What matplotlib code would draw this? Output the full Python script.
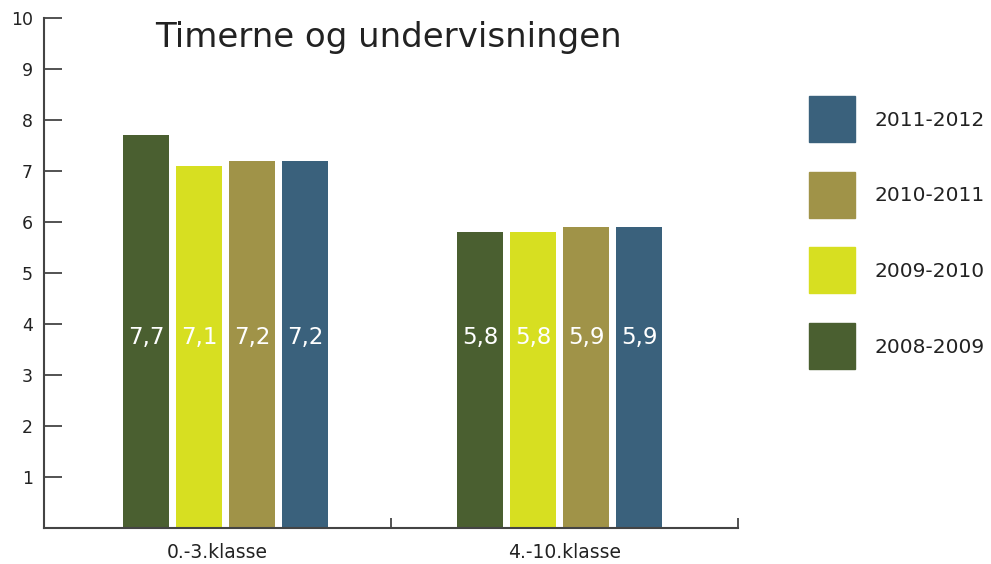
import matplotlib.pyplot as plt
from matplotlib.patches import Rectangle
import numpy as np

plt.rcParams['font.family'] = ['DejaVu Sans']

# data
categories = ["0.-3.klasse", "4.-10.klasse"]
years = ["2008-2009", "2009-2010", "2010-2011", "2011-2012"]
v_2008 = [7.7, 5.8]
v_2009 = [7.1, 5.8]
v_2010 = [7.2, 5.9]
v_2011 = [7.2, 5.9]
values = [v_2008, v_2009, v_2010, v_2011]
colors = ["#4a5f30", "#d7df21", "#a09348", "#3a617c"]

fig = plt.figure(figsize=(9.91, 5.64), dpi=100)
ax = fig.add_axes([44 / 991, 36 / 564, 694 / 991, 510 / 564])

group_centers = np.array([0.523, 1.486])
width = 0.1326
step = 0.1527
for i, (vals, col) in enumerate(zip(values, colors)):
    xs = group_centers + (i - 1.5) * step
    ax.bar(xs, vals, width=width, color=col)
    for x, v in zip(xs, vals):
        ax.text(x, 3.73, f"{v:.1f}".replace(".", ","), ha="center", va="center",
                color="white", fontsize=16.5)

ax.set_xlim(0, 2)
ax.set_ylim(0, 10)
ax.set_yticks(range(1, 11))
ax.tick_params(axis="y", direction="in", length=13, width=1.3, color="#444",
               labelsize=12.5, pad=8, labelcolor="#222")
ax.set_xticks([0, 1, 2])
ax.set_xticklabels([])
ax.set_xticks([0.5, 1.5], minor=True)
ax.set_xticklabels(categories, minor=True)
ax.tick_params(axis="x", which="major", direction="in", length=7, width=1.3, color="#444")
ax.tick_params(axis="x", which="minor", length=0, labelsize=13.5, pad=11, labelcolor="#222")
for s in ["top", "right"]:
    ax.spines[s].set_visible(False)
for s in ["left", "bottom"]:
    ax.spines[s].set_color("#444")
    ax.spines[s].set_linewidth(1.5)

fig.text(155 / 991, 1 - 37 / 564, "Timerne og undervisningen", fontsize=24.5,
         color="#222", va="center", ha="left")

# legend (newest at top)
for k, (lab, col) in enumerate(zip(years[::-1], colors[::-1])):
    top = 96 + k * 75.7
    fig.add_artist(Rectangle((809 / 991, 1 - (top + 46) / 564), 46 / 991, 46 / 564,
                             transform=fig.transFigure, color=col))
    fig.text(874 / 991, 1 - (top + 24) / 564, lab, fontsize=14.5, color="#222",
             va="center", ha="left")

fig.savefig("out.png", dpi=100)
